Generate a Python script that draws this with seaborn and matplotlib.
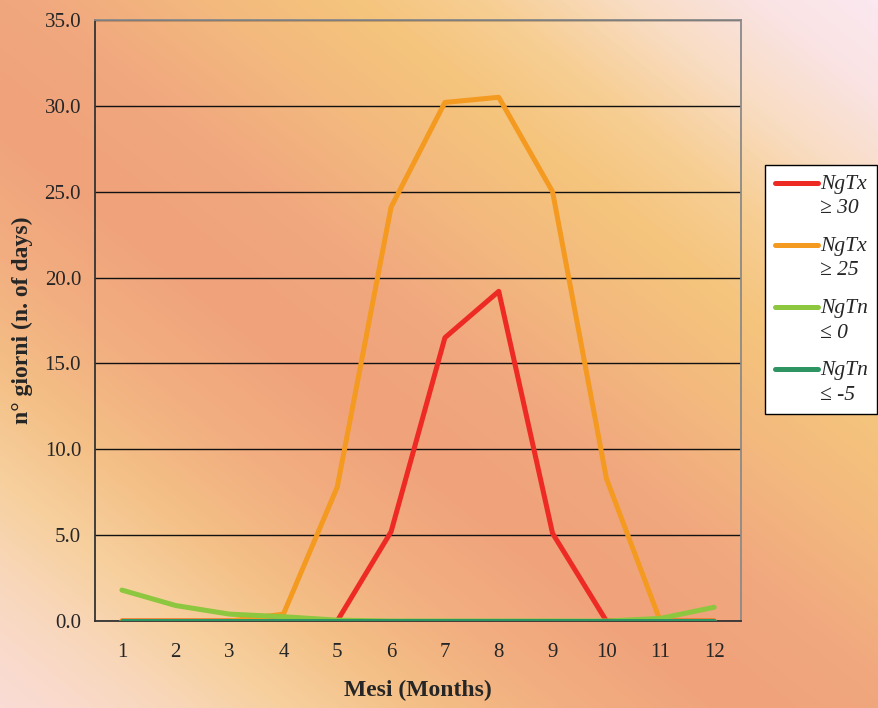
"""
Monthly count of days above/below temperature thresholds
"""
import matplotlib
matplotlib.use('Agg')
import matplotlib.pyplot as plt
import seaborn as sns
import numpy as np
import pandas as pd
from matplotlib.colors import LinearSegmentedColormap
from matplotlib.lines import Line2D
from matplotlib.legend_handler import HandlerLine2D

# data
months = list(range(1, 13))
ngtx_30 = [0, 0, 0, 0, 0, 5.2, 16.5, 19.2, 5.1, 0, 0, 0]
ngtx_25 = [0, 0, 0, 0.4, 7.8, 24.1, 30.2, 30.5, 25.0, 8.3, 0, 0]
ngtn_0 = [1.8, 0.9, 0.4, 0.25, 0.05, 0, 0, 0, 0, 0, 0.15, 0.8]
ngtn_m5 = [0, 0, 0, 0, 0, 0, 0, 0, 0, 0, 0, 0]

series_names = ['NgTx\n\u2265 30', 'NgTx\n\u2265 25', 'NgTn\n\u2264 0', 'NgTn\n\u2264 -5']
series_values = [ngtx_30, ngtx_25, ngtn_0, ngtn_m5]
colors = ['#EE2A24', '#F49A20', '#8DC63F', '#2E9462']
y_ticks = [0, 5, 10, 15, 20, 25, 30, 35]

df = pd.DataFrame({
    'month': months * len(series_names),
    'days': [v for vals in series_values for v in vals],
    'series': [n for n in series_names for _ in months],
})

sns.set_style('white')
plt.rcParams['font.family'] = ['Liberation Serif', 'DejaVu Serif']

fig = plt.figure(figsize=(8.79, 7.08), dpi=100)

# diagonal background gradient (bands run at roughly 0.8 px down per px right)
bg = fig.add_axes([0, 0, 1, 1], zorder=-10)
bg.axis('off')
px, py = np.meshgrid(np.arange(879), np.arange(708))
s = 0.8 * px - py
u = (s + 708) / 1411
cmap = LinearSegmentedColormap.from_list('bg', [
    (0.0, '#FADCD6'), (0.08, '#F9D8C0'), (0.16, '#F7D09E'), (0.24, '#F4BF86'),
    (0.32, '#F2AE80'), (0.42, '#F0A27B'), (0.52, '#F1A87E'), (0.61, '#F3B87E'),
    (0.70, '#F5C47C'), (0.78, '#F7CE94'), (0.86, '#F9DDC4'), (0.93, '#FAE3E2'),
    (1.0, '#FBE8F0')])
bg.imshow(u, cmap=cmap, vmin=0, vmax=1, aspect='auto', extent=[0, 1, 0, 1],
          origin='upper', interpolation='bilinear')

ax = fig.add_axes([95 / 879, 1 - 621 / 708, 646 / 879, 601 / 708])
ax.set_facecolor('none')

sns.lineplot(data=df, x='month', y='days', hue='series', hue_order=series_names,
             palette=colors, linewidth=3.6, ax=ax, legend=False, zorder=3)

ax.set_xlim(0.5, 12.5)
ax.set_ylim(0, 35)
ax.set_yticks(y_ticks)
ax.set_yticklabels([f'{v:.1f}' for v in y_ticks])
ax.set_xticks(months)
ax.set_xticklabels([str(m) for m in months])
ax.set_xticks(np.arange(0.5, 13, 1), minor=True)
ax.tick_params(axis='x', which='major', length=0, pad=16, labelsize=15)
ax.tick_params(axis='x', which='minor', length=6, width=1, color='#222222', direction='out')
ax.tick_params(axis='y', length=6, width=1, color='#222222', direction='out', pad=4, labelsize=15)
ax.yaxis.grid(True, color='#111111', linewidth=1)
ax.set_axisbelow(True)

for side in ['left', 'bottom']:
    ax.spines[side].set_color('#333333')
    ax.spines[side].set_linewidth(1.3)
for side in ['top', 'right']:
    ax.spines[side].set_color('#8a8a8a')
    ax.spines[side].set_linewidth(1.3)

ax.set_xlabel('Mesi (Months)', fontsize=17, fontweight='bold', labelpad=13)
ax.set_ylabel('n\u00b0 giorni (n. of days)', fontsize=17, fontweight='bold', labelpad=8)


class FirstLineHandler(HandlerLine2D):
    """Put the legend line next to the first line of a two-line label."""
    def create_artists(self, legend, orig_handle, xdescent, ydescent,
                       width, height, fontsize, trans):
        artists = super().create_artists(legend, orig_handle, xdescent, ydescent,
                                         width, height, fontsize, trans)
        for a in artists:
            a.set_ydata(np.asarray(a.get_ydata()) + 9.5)
        return artists


handles = [Line2D([0], [0], color=c, linewidth=3.6) for c in colors]
leg = fig.legend(handles, series_names, loc='upper left',
                 bbox_to_anchor=(765 / 879, 1 - 165 / 708), frameon=True,
                 fancybox=False, edgecolor='black', facecolor='white', framealpha=1,
                 prop={'style': 'italic', 'size': 15.5}, handlelength=2.0,
                 handletextpad=0.1, labelspacing=0.86, borderpad=0.45,
                 borderaxespad=0, handler_map={Line2D: FirstLineHandler()})
leg.get_frame().set_linewidth(1)
for txt in leg.get_texts():
    txt.set_linespacing(1.4)

fig.savefig('out.png', dpi=100)
